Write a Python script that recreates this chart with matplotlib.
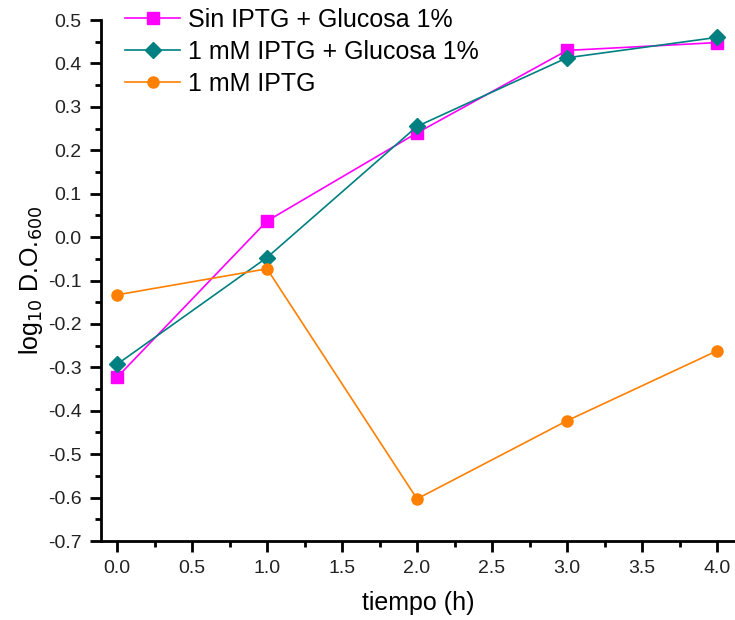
import matplotlib
matplotlib.use('Agg')
import matplotlib.pyplot as plt
from matplotlib.ticker import MultipleLocator

plt.rcParams['font.family'] = ['Liberation Sans', 'DejaVu Sans']

# tiempo (h)
tiempo = [0, 1, 2, 3, 4]

# log10 D.O.600 per condition
sin_iptg_glucosa = [-0.323, 0.037, 0.240, 0.430, 0.448]
iptg_glucosa = [-0.293, -0.047, 0.255, 0.413, 0.460]
iptg_solo = [-0.133, -0.073, -0.603, -0.423, -0.262]

labels = ['Sin IPTG + Glucosa 1%', '1 mM IPTG + Glucosa 1%', '1 mM IPTG']

fig = plt.figure(figsize=(7.35, 6.2), dpi=100)
ax = fig.add_axes([0.1374, 0.1274, 0.8626, 0.8403])

ax.plot(tiempo, sin_iptg_glucosa, color='#ff00ff', marker='s', markersize=8,
        linewidth=1.2, label=labels[0])
ax.plot(tiempo, iptg_glucosa, color='#008080', marker='D', markersize=8.5,
        linewidth=1.2, label=labels[1])
ax.plot(tiempo, iptg_solo, color='#ff8000', marker='o', markersize=8,
        linewidth=1.2, label=labels[2])

ax.set_xlim(-0.107, 4.12)
ax.set_ylim(-0.7, 0.5)
ax.xaxis.set_major_locator(MultipleLocator(0.5))
ax.xaxis.set_minor_locator(MultipleLocator(0.25))
ax.yaxis.set_major_locator(MultipleLocator(0.1))
ax.yaxis.set_minor_locator(MultipleLocator(0.05))
ax.xaxis.set_major_formatter(plt.FuncFormatter(lambda v, p: f'{v:.1f}'))
ax.yaxis.set_major_formatter(plt.FuncFormatter(lambda v, p: f'{v:.1f}'))

for side in ['top', 'right']:
    ax.spines[side].set_visible(False)
for side in ['left', 'bottom']:
    ax.spines[side].set_linewidth(2)

ax.tick_params(which='major', direction='out', length=8, width=2, labelsize=14,
               pad=6, labelcolor='#222222')
ax.tick_params(which='minor', direction='out', length=4, width=2)

ax.set_xlabel('tiempo (h)', fontsize=18, labelpad=10)
ax.set_ylabel(r'log$_{10}$ D.O.$_{600}$', fontsize=18, labelpad=2)

ax.legend(loc='upper left', bbox_to_anchor=(0.038, 1.024), frameon=False,
          fontsize=18, handlelength=2.2, labelspacing=0.32, handletextpad=0.32,
          borderpad=0, borderaxespad=0)

fig.savefig('out.png', dpi=100)
